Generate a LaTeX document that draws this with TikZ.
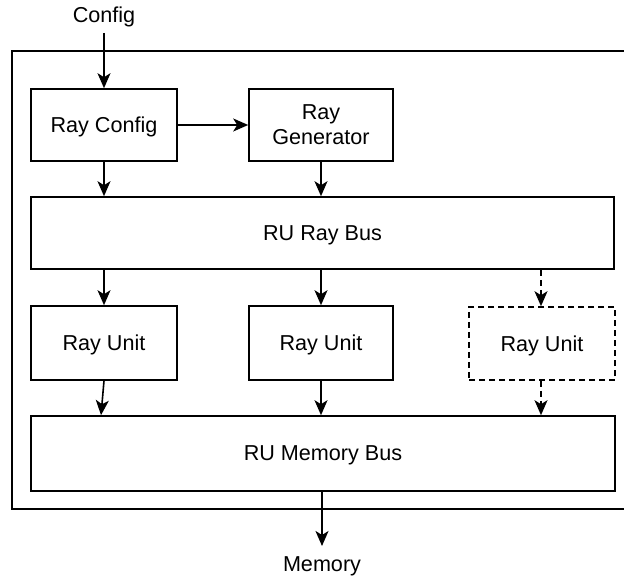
\documentclass[tikz,border=0pt]{standalone}
\usepackage{fontspec}
\setmainfont{Liberation Sans}
\usetikzlibrary{arrows.meta}
\begin{document}
\begin{tikzpicture}[x=1pt,y=-1pt,
  every node/.style={font=\fontsize{21.6}{25}\selectfont, inner sep=0pt},
  blk/.style={draw, line width=1.6pt, minimum height=72pt, align=center, fill=white, text depth=0pt},
  dsh/.style={dash pattern=on 6pt off 4pt},
  arr/.style={line width=1.6pt, -{Stealth[length=15pt,width=13pt,inset=4pt]}},
  outer/.style={draw, line width=1.6pt}]
\useasboundingbox (0,0) rectangle (624,577);
\draw[outer] (630,51) -- (12,51) -- (12,509) -- (630,509);
\node (cfg) at (104,17) {Config};
\coordinate (cfgs) at (104,33);
\node[blk, minimum width=146pt] (rc) at (104,125) {Ray Config};
\node[blk, minimum width=144pt] (rg) at (321,125) {Ray\\Generator};
\node[blk, minimum width=583pt] (rb) at (322.5,233) {RU Ray Bus};
\node[blk, minimum width=146pt, minimum height=74pt] (u1) at (104,343) {Ray Unit};
\node[blk, minimum width=144pt, minimum height=74pt] (u2) at (321,343) {Ray Unit};
\node[blk, dsh, minimum width=146pt, minimum height=73pt] (u3) at (542,343.5) {Ray Unit};
\node[blk, minimum width=584pt, minimum height=75pt] (mb) at (323,453.5) {RU Memory Bus};
\node (mem) at (322,566) {Memory};
\coordinate (memn) at (322,546);
\draw[arr] (cfgs) -- (rc.north);
\draw[arr] (rc.east) -- (rg.west);
\draw[arr] (rc.south) -- (rc.south |- rb.north);
\draw[arr] (rg.south) -- (rg.south |- rb.north);
\draw[arr] (u1.north |- rb.south) -- (u1.north);
\draw[arr] (u2.north |- rb.south) -- (u2.north);
\draw[arr, dsh] ([xshift=-1pt]u3.north |- rb.south) -- ([xshift=-1pt]u3.north);
\draw[arr] (u1.south) -- ([xshift=-3pt]u1.south |- mb.north);
\draw[arr] (u2.south) -- (u2.south |- mb.north);
\draw[arr, dsh] ([xshift=-1pt]u3.south) -- ([xshift=-1pt]u3.south |- mb.north);
\draw[arr] (mb.south -| mem) -- (memn);
\end{tikzpicture}
\end{document}
